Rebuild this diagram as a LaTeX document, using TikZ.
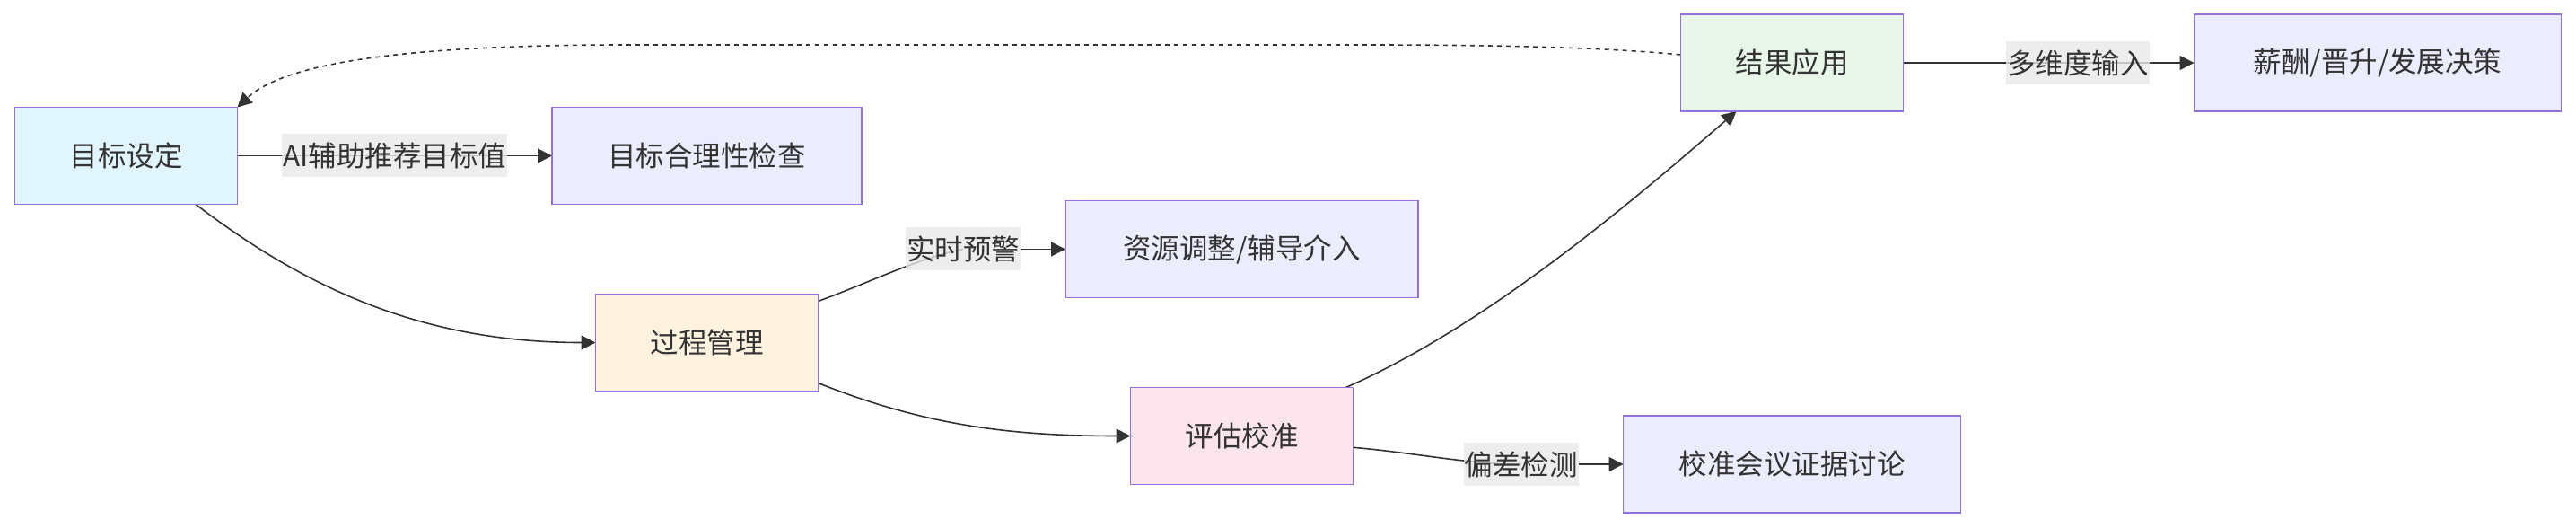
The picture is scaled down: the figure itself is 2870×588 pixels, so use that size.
\documentclass[tikz,border=0pt]{standalone}
\usepackage{fontspec}
\setmainfont{Noto Sans CJK SC}
\usepackage{xcolor}
\usepackage{tikz}
\usetikzlibrary{positioning, arrows.meta}

\definecolor{boxfill}{HTML}{ECECFF}
\definecolor{boxline}{HTML}{9370DB}
\definecolor{goalfill}{HTML}{E1F5FE}
\definecolor{procfill}{HTML}{FFF3E0}
\definecolor{evalfill}{HTML}{FCE4EC}
\definecolor{resfill}{HTML}{E8F5E9}
\definecolor{lblbg}{HTML}{E8E8E8}
\definecolor{edgegray}{HTML}{333333}

\pgfdeclarelayer{edges}
\pgfsetlayers{edges,main}

\begin{document}
\begin{tikzpicture}[
    x=0.5pt, y=-0.5pt,
    font=\fontsize{15.75pt}{18pt}\selectfont, text=edgegray,
    box/.style={rectangle, draw=boxline, line width=0.9pt, fill=boxfill, minimum height=54pt, inner sep=0pt, outer sep=0pt, align=center},
    elabel/.style={rectangle, fill=lblbg, fill opacity=0.8, text opacity=1, minimum height=24pt, inner xsep=0.5pt, inner ysep=0pt, outer sep=0pt},
    flow/.style={-{Triangle[length=8pt, width=8pt]}, line width=0.8pt, draw=edgegray},
    link/.style={line width=0.8pt, draw=edgegray},
    feedback/.style={dash pattern=on 2.5pt off 2.5pt}
]
\useasboundingbox (0,0) rectangle (2870,588);
\node[box, fill=goalfill, minimum width=124pt] (goal) at (140.5,173.5) {目标设定};
\node[box, minimum width=172.5pt, right=175.25pt of goal] (check) {目标合理性检查};
\node[box, fill=procfill, minimum width=124pt, below=50pt of check] (proc) {过程管理};
\node[box, fill=evalfill, minimum width=124pt, right=174pt of proc, yshift=-52pt] (eval) {评估校准};
\node[box, minimum width=196.5pt, above=50pt of eval] (adjust) {资源调整/辅导介入};
\node[box, minimum width=188pt, right=150.5pt of eval, yshift=-15.75pt] (meeting) {校准会议证据讨论};
\node[box, fill=resfill, minimum width=124pt, above=169.5pt of meeting] (result) {结果应用};
\node[box, minimum width=204.5pt, right=162pt of result] (decide) {薪酬/晋升/发展决策};
\node[elabel, left=25pt of check] (ai) {AI辅助推荐目标值};
\node[elabel, left=25pt of adjust] (warn) {实时预警};
\node[elabel, left=25pt of meeting] (bias) {偏差检测};
\node[elabel, left=25pt of decide] (multi) {多维度输入};
\begin{pgfonlayer}{edges}
\draw[flow] (goal) -- (check);
\draw[flow] ([xshift=38.75pt]goal.south) .. controls +(122,93) and +(-193,0) .. (proc.west);
\draw[link] ([yshift=-4pt]proc.north east) .. controls +(60,-22) and +(-50,10) .. (warn.center);
\draw[flow] (warn) -- (adjust);
\draw[flow] ([yshift=4.5pt]proc.south east) .. controls +(120,48) and +(-130,0) .. (eval.west);
\draw[flow] ([xshift=-4pt]eval.north east) .. controls +(160,-70) and +(-110,95) .. ([xshift=-31pt]result.south);
\draw[link] ([yshift=-6.4pt]eval.east) .. controls +(70,6) and +(-60,0) .. (bias.center);
\draw[flow] (bias) -- (meeting);
\draw[flow] (result) -- (decide);
\draw[flow, feedback] ([yshift=4.5pt]result.west) .. controls +(-93,-9) and +(130,0) .. ++(-353,-11) -- ++(-820,0) .. controls +(-250,0) and +(52,-49) .. (goal.north east);
\end{pgfonlayer}
\end{tikzpicture}
\end{document}
